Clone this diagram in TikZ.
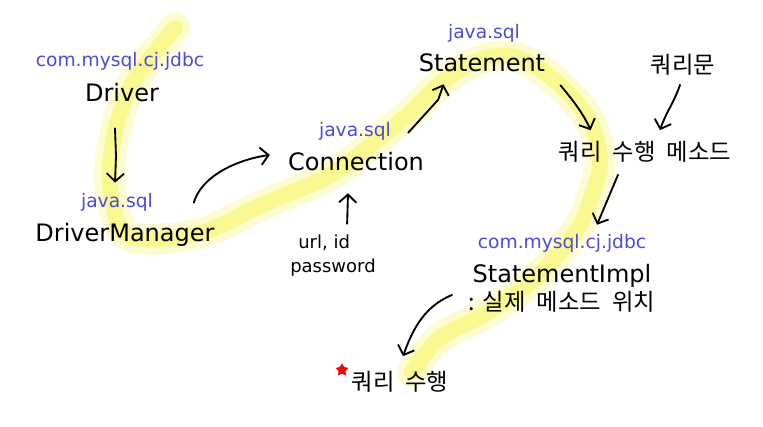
\documentclass[tikz,border=0pt]{standalone}
\usepackage{fontspec}
\setmainfont{DejaVu Sans}
\newfontfamily\kr[WordSpace=2.1]{Noto Sans CJK KR}
\usetikzlibrary{arrows.meta,calc,shapes.geometric}

\begin{document}
\begin{tikzpicture}[x=0.75pt, y=-0.75pt, >={Straight Barb[length=6pt,width=13pt]},
  cls/.style={font=\fontsize{18}{20}\selectfont, text height=13pt, text depth=3.5pt, inner sep=0pt},
  pkg/.style={text=pkgblue, font=\fontsize{14}{16}\selectfont, inner sep=0pt},
  note/.style={font=\kr\fontsize{17.5}{19}\selectfont, inner sep=0pt},
  arg/.style={font=\fontsize{13.5}{15}\selectfont, inner sep=0pt},
  hand/.style={->, line width=1.4pt, line cap=round, line join=round},
  marker/.style={draw=hlyellow, line cap=round, line join=round}]
\definecolor{pkgblue}{HTML}{4C4CD6}
\definecolor{hlyellow}{HTML}{F5F000}
\useasboundingbox[fill=white] (0,0) rectangle (763,427);
\draw[marker, line width=23pt, opacity=.18] plot[smooth, tension=.6] coordinates {(175,28) (130,88) (111,155) (113,205) (132,237) (200,233) (262,205) (327,177) (365,150) (410,113) (445,80) (480,60) (515,57) (552,78) (588,118) (600,160) (592,195) (578,228) (537,277) (487,313) (440,338) (412,372)};
\draw[marker, line width=12pt, opacity=.3] plot[smooth, tension=.6] coordinates {(175,28) (130,88) (111,155) (113,205) (132,237) (200,233) (262,205) (327,177) (365,150) (410,113) (445,80) (480,60) (515,57) (552,78) (588,118) (600,160) (592,195) (578,228) (537,277) (487,313) (440,338) (412,372)};
\node[pkg] (drvpkg) at (120,61) {com.mysql.cj.jdbc};
\node[cls] (drv) at (122,95) {Driver};
\node[pkg] (dmpkg) at (117,202) {java.sql};
\node[cls] (dm) at (125,235) {DriverManager};
\node[pkg] (conpkg) at (355,131) {java.sql};
\node[cls] (con) at (356,164) {Connection};
\node[arg, anchor=west] (url) at (298,243) {url, id};
\node[arg, anchor=west] (pw) at (290,268) {password};
\node[pkg] (stpkg) at (484,33) {java.sql};
\node[cls] (st) at (482,65) {Statement};
\node[note] (query) at (683,65) {쿼리문};
\node[note] (method) at (645,152) {쿼리 수행 메소드};
\node[pkg] (implpkg) at (562,243) {com.mysql.cj.jdbc};
\node[cls] (impl) at (562,276) {StatementImpl};
\node[note, anchor=west] (loc) at (468,302) {:\kern6pt 실제 메소드 위치};
\node[note] (exec) at (400,382) {쿼리 수행};
\node[star, star points=5, star point ratio=1.8, fill=red, inner sep=0pt, minimum size=10pt] (mark) at (342,370) {};
\draw[hand] ($(drv.south)+(-7,22)$) -- ($(drv.south)+(-6,50)$) -- ($(dmpkg.north)+(-2,-10)$);
\draw[hand] ($(dm.north east)+(-21,-21)$) .. controls +(8,-28) and +(-30,4) .. ($(con.west)+(-18,-9)$);
\draw[hand] ($(url.north)+(23,-11)$) -- ($(con.south)+(-8,18)$);
\draw[hand] ($(con.north east)+(-16,-20)$) -- ($(con.north east)+(14,-53)$) -- ($(st.south west)+(25,8)$);
\draw[hand] ($(st.south east)+(15,9)$) .. controls +(10,12) and +(-8,-18) .. ($(method.north west)+(32,-11)$);
\draw[hand] ($(query.south)+(-3,9)$) .. controls +(-6,18) and +(6,-18) .. ($(method.north)+(15,-11)$);
\draw[hand] ($(method.south)+(-27,12)$) -- ($(implpkg.north)+(35,-9)$);
\draw[hand] ($(loc.west)+(-16,-7)$) .. controls +(-30,12) and +(8,-22) .. ($(exec.north)+(3,-15)$);
\end{tikzpicture}
\end{document}
